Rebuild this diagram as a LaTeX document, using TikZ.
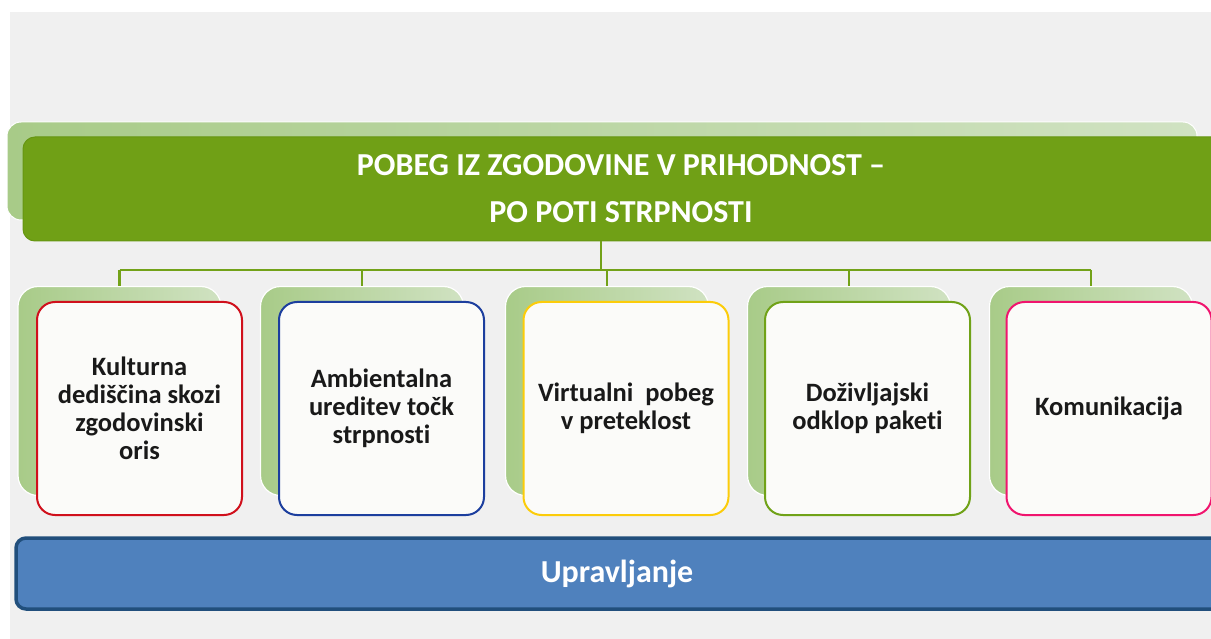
\documentclass[tikz,border=0pt]{standalone}
\usepackage{fontspec}
\setmainfont[Ligatures=NoCommon]{Carlito}
\begin{document}
\begin{tikzpicture}[x=1pt,y=-1pt,
  backbox/.style={draw=white, line width=1.2pt, rounded corners=20pt,
    left color=greenA, right color=greenB, minimum width=203pt, minimum height=209pt, inner sep=0pt},
  frontbox/.style={line width=2pt, rounded corners=18pt, fill=frontfill,
    minimum width=205pt, minimum height=213pt, inner sep=0pt, align=center,
    font=\fontsize{26.5}{28}\selectfont\bfseries, text=black!90},
  conn/.style={draw=connGreen, line width=2.5pt}
]
\definecolor{bg}{RGB}{240,240,240}
\definecolor{greenA}{RGB}{168,203,136}
\definecolor{greenB}{RGB}{208,226,194}
\definecolor{barGreen}{RGB}{112,160,22}
\definecolor{barEdge}{RGB}{102,150,18}
\definecolor{connGreen}{RGB}{115,162,25}
\definecolor{frontfill}{RGB}{251,251,249}
\definecolor{cRed}{RGB}{208,16,28}
\definecolor{cBlue}{RGB}{28,62,158}
\definecolor{cYellow}{RGB}{252,204,10}
\definecolor{cGreen}{RGB}{112,162,24}
\definecolor{cPink}{RGB}{240,20,110}
\definecolor{uFill}{RGB}{79,129,189}
\definecolor{uEdge}{RGB}{33,79,124}

\useasboundingbox (0,0) rectangle (1211,639);
\fill[white] (0,0) rectangle (1211,639);
\fill[bg] (10,12) rectangle (1211,639);

% title bars
\node[draw=white, line width=1pt, rounded corners=14pt, left color=greenA, right color=greenB,
  minimum width=1190pt, minimum height=98pt, inner sep=0pt] (topback) at (602,171) {};
\node[draw=barEdge, line width=1pt, fill=barGreen, rounded corners=12pt,
  minimum width=1200pt, minimum height=104pt, inner sep=0pt] (top) at (623,189) {};
\node[text=white, align=center, inner sep=0pt,
  font=\fontsize{32}{47}\selectfont\bfseries] (title) at (621,189)
  {POBEG IZ ZGODOVINE V PRIHODNOST --\\PO POTI STRPNOSTI};

% back boxes
\node[backbox] (b1) at (119.5,391) {};
\node[backbox] (b2) at (362,391) {};
\node[backbox] (b3) at (607,391) {};
\node[backbox] (b4) at (849,391) {};
\node[backbox] (b5) at (1091,391) {};

% connectors
\coordinate (j) at (601,270);
\draw[conn] (j |- top.south) -- (j);
\draw[conn] (b1.north |- j) -- (b5.north |- j);
\foreach \i in {1,...,5}{\draw[conn] (b\i.north |- j) -- (b\i.north);}

% front boxes
\node[frontbox, draw=cRed] (f1) at (139.5,408.5) {Kulturna\\dediščina skozi\\zgodovinski\\oris};
\node[frontbox, draw=cBlue] (f2) at (381.5,408.5) {Ambientalna\\ureditev točk\\strpnosti};
\node[frontbox, draw=cYellow] (f3) at (626,408.5) {Virtualni\ \ pobeg\\v preteklost};
\node[frontbox, draw=cGreen] (f4) at (867.5,408.5) {Doživljajski\\odklop paketi};
\node[frontbox, draw=cPink] (f5) at (1109,408.5) {Komunikacija};

% bottom bar
\node[draw=uEdge, line width=3.5pt, fill=uFill, rounded corners=10pt,
  minimum width=1210pt, minimum height=71pt, inner sep=0pt] (up) at (621,573.5) {};
\node[text=white, inner sep=0pt, font=\fontsize{32}{36}\selectfont\bfseries] (uplabel) at (617,573.5) {Upravljanje};
\end{tikzpicture}
\end{document}
